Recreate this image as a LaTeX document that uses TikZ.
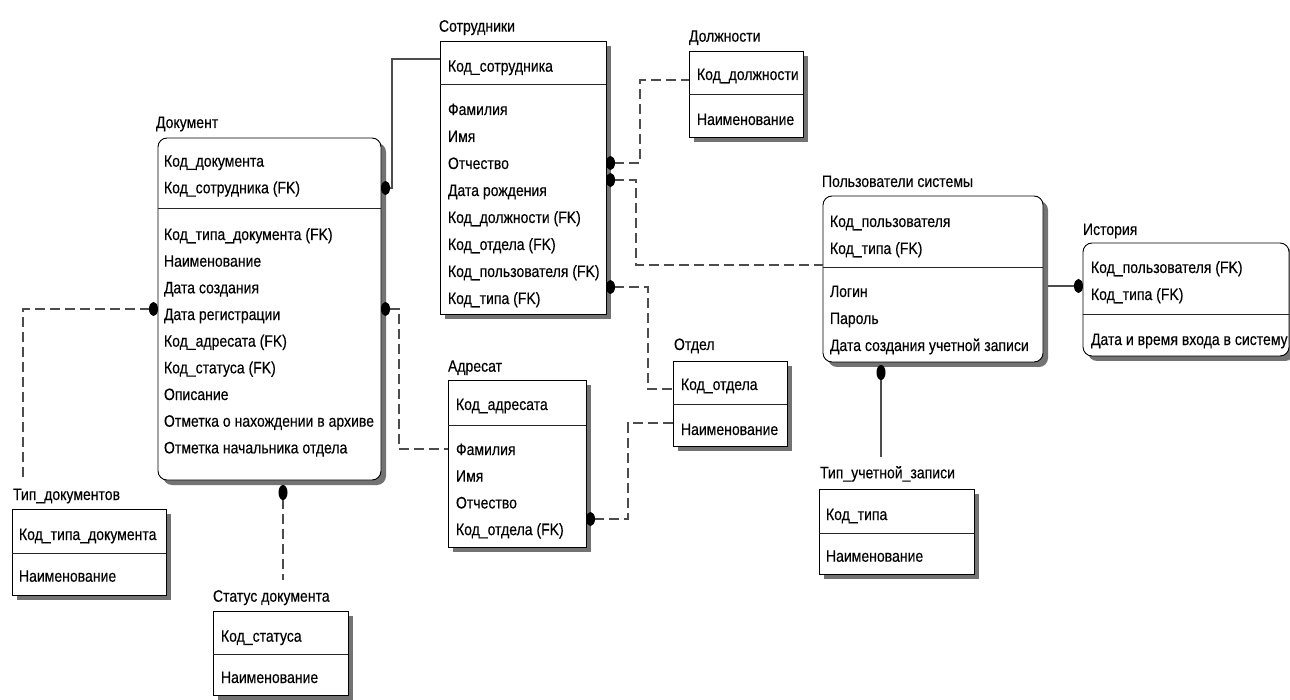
\documentclass[tikz,border=0pt]{standalone}
\usepackage{fontspec}
\setmainfont{Liberation Sans}[FakeStretch=0.85,FakeBold=0.3]
\usetikzlibrary{arrows.meta,shadows,calc}

\begin{document}
\begin{tikzpicture}[x=1pt,y=-1pt,
  every node/.style={inner sep=0pt, outer sep=0pt},
  ttl/.style={anchor=base west, font=\fontsize{16.5}{18}\selectfont},
  fld/.style={anchor=base west, font=\fontsize{16.5}{18}\selectfont},
  ent/.style={draw=black, line width=0.9pt, fill=white, anchor=north west,
    drop shadow={shadow xshift=5pt, shadow yshift=-5pt, fill=black!55, opacity=1}},
  rent/.style={ent, rounded corners=9pt},
  sep/.style={draw=black!85, line width=0.9pt},
  idrel/.style={draw=black!70, line width=1.1pt},
  nirel/.style={idrel, dash pattern=on 10pt off 5pt},
  hdot/.style={{Ellipse[length=9pt,width=14pt,color=black]}-},
  hdotend/.style={-{Ellipse[length=9pt,width=14pt,color=black]}},
  vdot/.style={{Ellipse[length=15pt,width=9pt,color=black]}-},
]
\useasboundingbox (0,0) rectangle (1290,700);

% ---------- Документ ----------
\node[ttl] (docT) at (156,128) {Документ};
\node[rent, minimum width=223pt, minimum height=342pt] (doc) at (158,138) {};
\draw[sep] (doc.west |- 0,208) -- (doc.east |- 0,208);
\node[fld] (docK1) at (164,166.7) {Код\_документа};
\node[fld] (docK2) at (164,193.3) {Код\_сотрудника (FK)};
\foreach \t [count=\i from 0] in {Код\_типа\_документа (FK), Наименование, Дата создания,
    Дата регистрации, Код\_адресата (FK), Код\_статуса (FK), Описание,
    Отметка о нахождении в архиве, Отметка начальника отдела}
  \node[fld] (docA\i) at (164,240+26.67*\i) {\t};

% ---------- Сотрудники ----------
\node[ttl] (sotrT) at (439,31.7) {Сотрудники};
\node[ent, minimum width=166pt, minimum height=273pt] (sotr) at (440,41) {};
\draw[sep] (sotr.west |- 0,84) -- (sotr.east |- 0,84);
\node[fld] (sotrK1) at (448,71.7) {Код\_сотрудника};
\foreach \t [count=\i from 0] in {Фамилия, Имя, Отчество, Дата рождения,
    Код\_должности (FK), Код\_отдела (FK), Код\_пользователя (FK), Код\_типа (FK)}
  \node[fld] (sotrA\i) at (448,115+27*\i) {\t};

% ---------- Должности ----------
\node[ttl] (dolzhT) at (689,41.7) {Должности};
\node[ent, minimum width=114pt, minimum height=86pt] (dolzh) at (689,51) {};
\draw[sep] (dolzh.west |- 0,94) -- (dolzh.east |- 0,94);
\node[fld] (dolzhK1) at (697,80) {Код\_должности};
\node[fld] (dolzhA0) at (697,125) {Наименование};

% ---------- Пользователи системы ----------
\node[ttl] (polzT) at (822,187) {Пользователи системы};
\node[rent, minimum width=220pt, minimum height=166pt] (polz) at (823,196) {};
\draw[sep] (polz.west |- 0,267) -- (polz.east |- 0,267);
\node[fld] (polzK1) at (830,227) {Код\_пользователя};
\node[fld] (polzK2) at (830,254) {Код\_типа (FK)};
\foreach \t [count=\i from 0] in {Логин, Пароль, Дата создания учетной записи}
  \node[fld] (polzA\i) at (830,297+27*\i) {\t};

% ---------- История ----------
\node[ttl] (histT) at (1083,235) {История};
\node[rent, minimum width=206pt, minimum height=113pt] (hist) at (1083,243) {};
\draw[sep] (hist.west |- 0,314) -- (hist.east |- 0,314);
\node[fld] (histK1) at (1091,273) {Код\_пользователя (FK)};
\node[fld] (histK2) at (1091,300) {Код\_типа (FK)};
\node[fld] (histA0) at (1091,345) {Дата и время входа в систему};

% ---------- Тип_документов ----------
\node[ttl] (tipdocT) at (13,500) {Тип\_документов};
\node[ent, minimum width=154pt, minimum height=86pt] (tipdoc) at (12,509) {};
\draw[sep] (tipdoc.west |- 0,553) -- (tipdoc.east |- 0,553);
\node[fld] (tipdocK1) at (19,540) {Код\_типа\_документа};
\node[fld] (tipdocA0) at (19,581.7) {Наименование};

% ---------- Статус документа ----------
\node[ttl] (statT) at (213,601.7) {Статус документа};
\node[ent, minimum width=135pt, minimum height=84pt] (stat) at (213,611) {};
\draw[sep] (stat.west |- 0,654) -- (stat.east |- 0,654);
\node[fld] (statK1) at (221,641.7) {Код\_статуса};
\node[fld] (statA0) at (221,683) {Наименование};

% ---------- Адресат ----------
\node[ttl] (adrT) at (448,371.7) {Адресат};
\node[ent, minimum width=138pt, minimum height=167pt] (adr) at (448,380) {};
\draw[sep] (adr.west |- 0,425) -- (adr.east |- 0,425);
\node[fld] (adrK1) at (456,410) {Код\_адресата};
\foreach \t [count=\i from 0] in {Фамилия, Имя, Отчество, Код\_отдела (FK)}
  \node[fld] (adrA\i) at (456,455+26.7*\i) {\t};

% ---------- Отдел ----------
\node[ttl] (otdelT) at (674,350) {Отдел};
\node[ent, minimum width=114pt, minimum height=85pt] (otdel) at (673,361) {};
\draw[sep] (otdel.west |- 0,404) -- (otdel.east |- 0,404);
\node[fld] (otdelK1) at (681,390) {Код\_отдела};
\node[fld] (otdelA0) at (681,435) {Наименование};

% ---------- Тип_учетной_записи ----------
\node[ttl] (tipuchT) at (820,478.3) {Тип\_учетной\_записи};
\node[ent, minimum width=155pt, minimum height=85pt] (tipuch) at (819,489) {};
\draw[sep] (tipuch.west |- 0,533) -- (tipuch.east |- 0,533);
\node[fld] (tipuchK1) at (826,520) {Код\_типа};
\node[fld] (tipuchA0) at (826,561.7) {Наименование};

% ---------- Связи ----------
\coordinate (tdEnd) at (23,478);
\coordinate (stEnd) at (283,580);
\coordinate (tuEnd) at (881,457);

% identifying relationships (solid)
\draw[idrel, hdot] (doc.east |- 0,188) -- (392,188) |- (sotr.west |- 0,59);
\draw[idrel, hdotend] ($(polz.east |- 0,286)+(5,0)$) -- (hist.west |- 0,286);
\draw[idrel, vdot] ($(polz.south -| tuEnd)+(0,3)$) -- (tuEnd);

% non-identifying relationships (dashed)
\draw[nirel, hdot] (doc.west |- 0,309) -| (tdEnd);
\draw[nirel, vdot] ($(doc.south -| stEnd)+(0,5)$) -- (stEnd);
\draw[nirel, hdot] (doc.east |- 0,309) -- (399,309) |- (adr.west |- 0,449);
\draw[nirel, hdot] (sotr.east |- 0,163) -- (640,163) |- (dolzh.west |- 0,80);
\draw[nirel, hdot] (sotr.east |- 0,180) -- (636,180) |- (polz.west |- 0,265);
\draw[nirel, hdot] (sotr.east |- 0,287) -- (648,287) |- (otdel.west |- 0,389);
\draw[nirel, hdot] (adr.east |- 0,519) -- (628,519) |- (otdel.west |- 0,423);
\end{tikzpicture}
\end{document}
